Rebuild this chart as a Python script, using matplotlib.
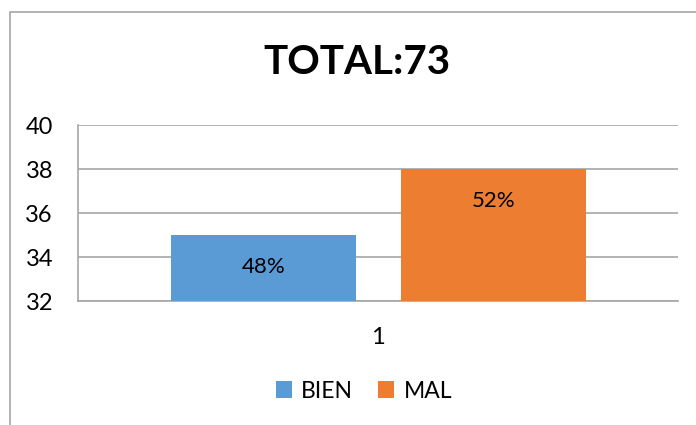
import numpy as np
import matplotlib
matplotlib.use("Agg")
import matplotlib.pyplot as plt
from matplotlib.patches import Rectangle

plt.rcParams['font.family'] = ['Lato', 'DejaVu Sans']

# data
title = "TOTAL:73"
series = ["BIEN", "MAL"]
values = [35, 38]
labels = ["48%", "52%"]
colors = ["#5B9BD5", "#ED7D31"]
category = "1"
yticks = [32, 34, 36, 38, 40]

fig = plt.figure(figsize=(6.96, 4.25), dpi=100)

# outer chart border (cut off on right / bottom like the original)
fig.patches.append(Rectangle((10 / 696, -0.1), 1.2, 1.1 - 12 / 425,
                             transform=fig.transFigure, fill=False,
                             edgecolor="#A6A6A6", linewidth=1.2))

ax = fig.add_axes([78 / 696, 1 - 301 / 425, 600 / 696, 176 / 425])

width = 0.308
offsets = [-0.191, 0.192]
for name, v, lab, c, off in zip(series, values, labels, colors, offsets):
    ax.bar(off, v - yticks[0], width=width, bottom=yticks[0], color=c, label=name, zorder=3)
    ax.annotate(lab, (off, v), xytext=(0, -23), textcoords="offset points",
                ha="center", va="center", fontsize=16, color="#000000", zorder=4)

ax.set_xlim(-0.5, 0.5)
ax.set_ylim(yticks[0], yticks[-1])
ax.set_yticks(yticks)
ax.set_xticks([0])
ax.set_xticklabels([category])
ax.tick_params(axis="y", length=0, pad=18, labelsize=17)
ax.tick_params(axis="x", length=0, pad=19, labelsize=17)
ax.yaxis.grid(True, color="#A6A6A6", linewidth=1.2, zorder=0)
ax.set_axisbelow(True)

for s in ["top", "right"]:
    ax.spines[s].set_visible(False)
ax.spines["left"].set_color("#A6A6A6")
ax.spines["left"].set_linewidth(1.2)
ax.spines["bottom"].set_color("#A6A6A6")
ax.spines["bottom"].set_linewidth(1.2)

fig.text(357 / 696, 1 - 63 / 425, title, ha="center", va="center",
         fontsize=29, fontweight="bold")

fig.legend(loc="center", bbox_to_anchor=(364 / 696, 1 - 391 / 425), ncol=2,
           frameon=False, fontsize=16.5, handlelength=0.7, handleheight=0.7,
           handletextpad=0.4, columnspacing=1.1)

fig.savefig("out.png", dpi=100)
